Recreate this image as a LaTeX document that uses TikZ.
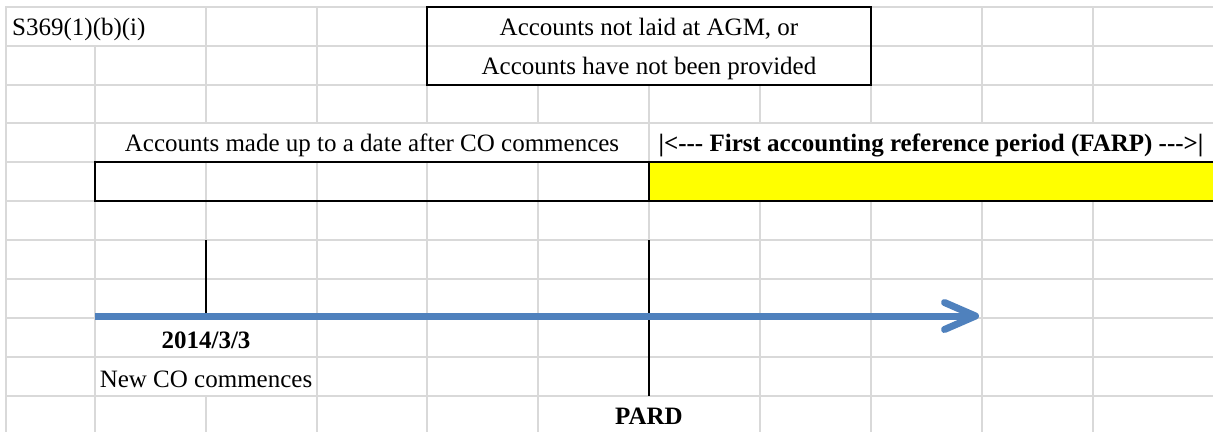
\documentclass[tikz,border=0pt]{standalone}
\usepackage{fontspec}
\setmainfont{Liberation Serif}
\usetikzlibrary{arrows.meta}
\definecolor{gridgray}{HTML}{D9D9D9}
\definecolor{tlblue}{HTML}{4F81BD}
\definecolor{farpyellow}{HTML}{FFFF00}
\begin{document}
\begin{tikzpicture}[x=1pt,y=-1pt,
  gridline/.style={gridgray,line width=2pt},
  border/.style={black,line width=2.4pt},
  marker/.style={black,line width=2pt},
  txt/.style={inner sep=0pt,font=\fontsize{25}{30}\selectfont,anchor=base},
  btxt/.style={txt,font=\fontsize{25}{30}\selectfont\bfseries},
  timeline/.style={tlblue,line width=7pt,-{Straight Barb[length=31pt,width=27pt,round]}}]
\useasboundingbox (0,0) rectangle (1213,432);
\fill[white] (0,0) rectangle (1213,432);
% horizontal grid lines
\foreach \y in {7,46,85,123,162,201,240,279,318,357,396}
  \draw[gridline] (6,\y) -- (1213,\y);
% vertical grid lines
\draw[gridline] (6,6) -- (6,432);
\draw[gridline] (95,46) -- (95,432);
\draw[gridline] (206,6) -- (206,123) (206,162) -- (206,318) (206,396) -- (206,432);
\draw[gridline] (317,6) -- (317,123) (317,162) -- (317,432);
\foreach \x in {427,538}
  \draw[gridline] (\x,85) -- (\x,123) (\x,162) -- (\x,432);
\draw[gridline] (649,85) -- (649,162) (649,201) -- (649,396);
\foreach \x in {760,871}
  \draw[gridline] (\x,85) -- (\x,123) (\x,201) -- (\x,432);
\foreach \x in {982,1093}
  \draw[gridline] (\x,6) -- (\x,123) (\x,201) -- (\x,432);
% boxes
\draw[border] (427,7) rectangle (871,85);
\fill[farpyellow] (649,162) rectangle (1213,201);
\draw[border] (95,162) rectangle (649,201);
\draw[border] (1213,162) -- (649,162) -- (649,201) -- (1213,201);
% texts
\node[txt,anchor=base west] (ref) at (12,35) {S369(1)(b)(i)};
\node[txt] (agm) at (649,35) {Accounts not laid at AGM, or};
\node[txt] (prov) at (649,74) {Accounts have not been provided};
\node[txt] (made) at (372,151) {Accounts made up to a date after CO commences};
\node[btxt] (farp) at (931,151) {|<{-}{-}- First accounting reference period (FARP) {-}{-}->|};
\node[btxt] (date) at (206,348) {2014/3/3};
\node[txt] (newco) at (206,387) {New CO commences};
\node[btxt] (pard) at (649,424) {PARD};
% markers and timeline
\coordinate (coTop) at (206,240);
\coordinate (coBot) at (206,316);
\coordinate (pardTop) at (649,240);
\coordinate (pardBot) at (649,396);
\coordinate (tlStart) at (95,316);
\coordinate (tlEnd) at (979,316);
\draw[marker] (coTop) -- (coBot);
\draw[marker] (pardTop) -- (pardBot);
\draw[timeline] (tlStart) -- (tlEnd);
\end{tikzpicture}
\end{document}
